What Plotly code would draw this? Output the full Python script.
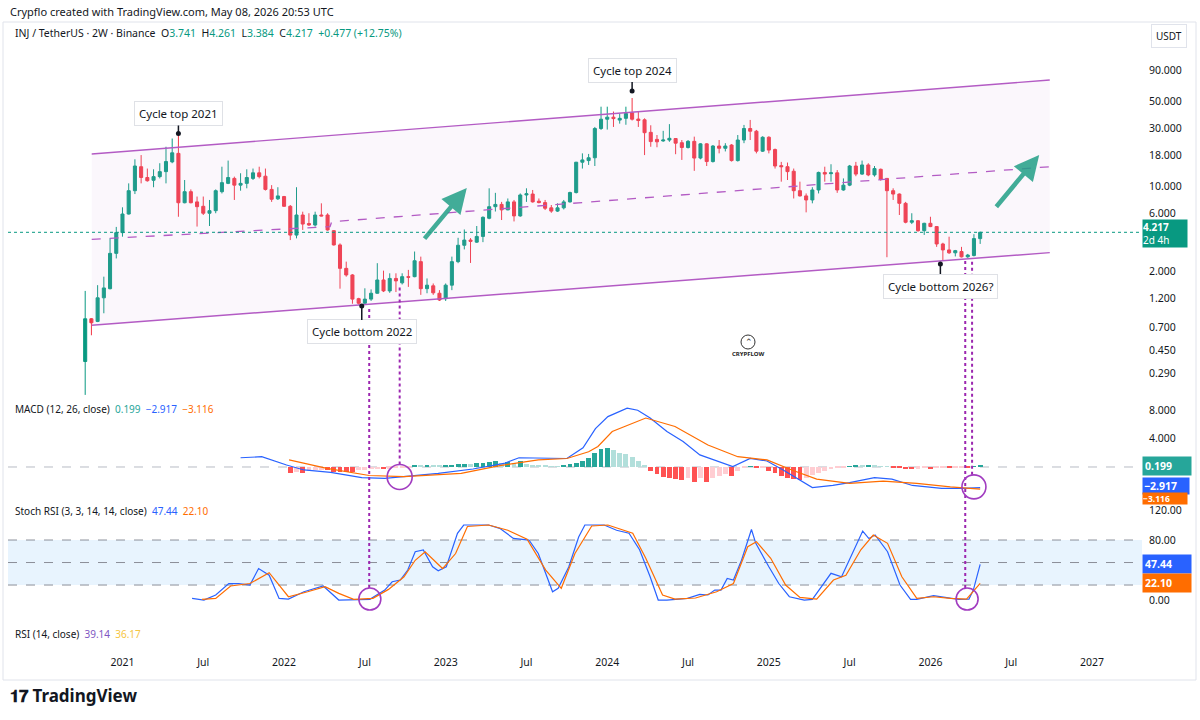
import numpy as np
import pandas as pd
import plotly.graph_objects as go

# ---------------- data (2W candles, INJ/USDT Binance) ----------------
START = pd.Timestamp("2020-10-19")
BAR_DAYS = 14

open_ = [0.365, 0.82, 0.78, 1.22, 1.45, 2.83, 4.19, 5.96, 9.27, 14.6,
         11.9, 11.3, 12.1, 13.3, 16.0, 18.8, 7.38, 9.1, 7.5, 6.9,
         6.05, 6.35, 9.1, 10.65, 11.7, 10.3, 10.65, 11.7, 13.0, 12.2,
         9.5, 7.95, 8.3, 6.9, 4.0, 5.85, 4.98, 4.84, 5.85, 5.85,
         4.35, 3.32, 2.13, 1.88, 1.2, 1.1, 1.19, 1.33, 1.71, 1.39,
         1.76, 1.62, 1.82, 1.82, 2.42, 1.45, 1.53, 1.33, 1.2, 1.55,
         2.42, 3.3, 3.64, 3.5, 3.9, 5.5, 6.85, 7.15, 6.45, 7.5,
         5.75, 8.55, 8.7, 7.6, 7.4, 6.7, 6.3, 6.7, 7.5, 8.95,
         15.9, 16.4, 17.3, 30.1, 35.9, 37.3, 35.3, 36.5, 40.5, 36.0,
         35.5, 28.0, 24.5, 23.8, 24.2, 24.9, 23.0, 21.0, 23.6, 17.2,
         22.5, 16.1, 21.6, 20.7, 22.0, 16.4, 24.2, 30.1, 28.6, 19.6,
         25.5, 20.2, 14.9, 14.6, 13.4, 9.27, 8.4, 7.78, 9.4, 13.1,
         12.8, 13.0, 9.4, 10.3, 14.8, 12.7, 15.1, 12.5, 13.9, 11.7,
         9.27, 8.7, 7.3, 5.1, 5.25, 4.35, 5.0, 4.7, 3.38, 3.02,
         2.86, 2.93, 2.65, 2.72, 3.741]
high = [1.39, 0.83, 1.55, 1.82, 3.76, 4.67, 6.77, 10.65, 16.8, 18.2,
        14.1, 13.9, 15.6, 21.3, 24.9, 27.5, 11.35, 9.5, 8.3, 8.3,
        7.78, 9.5, 14.6, 16.4, 12.1, 12.9, 13.9, 14.1, 14.6, 14.1,
        10.3, 9.9, 8.4, 7.07, 9.9, 6.23, 6.05, 6.23, 7.3, 6.05,
        4.4, 3.42, 2.42, 1.91, 1.22, 1.46, 1.43, 2.35, 2.04, 1.94,
        1.94, 1.94, 2.07, 2.93, 2.66, 1.76, 1.6, 1.41, 1.6, 2.66,
        3.8, 4.45, 3.78, 4.75, 5.7, 9.7, 8.9, 7.5, 8.0, 7.78,
        8.8, 9.7, 9.4, 8.0, 7.78, 7.07, 7.3, 7.78, 9.1, 16.0,
        18.8, 18.6, 31.0, 45.5, 45.5, 41.5, 40.0, 45.5, 53.6, 41.5,
        36.5, 32.0, 26.6, 28.8, 32.7, 25.0, 24.2, 24.2, 25.8, 22.8,
        22.8, 22.0, 24.2, 22.8, 22.4, 26.6, 32.2, 35.4, 29.3, 26.0,
        26.0, 20.6, 16.0, 15.8, 14.1, 11.0, 8.8, 9.9, 13.3, 14.6,
        15.3, 13.7, 11.7, 15.1, 16.0, 16.4, 15.6, 14.8, 14.1, 11.8,
        9.7, 8.8, 7.5, 6.05, 5.32, 5.05, 5.66, 4.75, 3.46, 3.88,
        3.02, 3.2, 2.8, 4.07, 4.261]
low = [0.194, 0.60, 0.77, 0.91, 1.43, 2.57, 3.88, 5.9, 8.7, 10.65,
       11.0, 9.9, 11.7, 10.65, 15.6, 5.66, 7.3, 7.3, 4.7, 5.85,
       4.75, 6.05, 8.8, 10.5, 7.78, 9.27, 9.7, 11.35, 11.7, 9.3,
       7.5, 7.78, 6.85, 3.64, 3.76, 4.41, 4.75, 4.7, 5.7, 4.35,
       3.28, 1.45, 1.82, 1.09, 1.07, 1.09, 1.15, 1.32, 1.36, 1.34,
       1.36, 1.57, 1.5, 1.80, 1.29, 1.33, 1.29, 1.15, 1.15, 1.41,
       2.35, 3.05, 2.36, 3.45, 3.5, 5.4, 6.25, 5.32, 6.4, 5.18,
       5.66, 7.5, 7.4, 7.3, 6.43, 6.1, 6.2, 6.5, 7.4, 8.8,
       14.1, 15.1, 14.8, 29.3, 29.5, 31.0, 33.0, 32.3, 35.0, 31.0,
       18.2, 21.3, 21.1, 23.4, 23.4, 18.5, 16.6, 20.6, 13.5, 16.8,
       14.8, 15.8, 18.8, 19.5, 16.1, 16.1, 22.8, 24.2, 18.8, 19.3,
       18.8, 14.1, 11.0, 11.35, 8.0, 8.3, 6.15, 7.3, 8.8, 11.0,
       11.0, 8.9, 9.27, 10.1, 12.2, 12.5, 12.2, 12.1, 11.2, 2.63,
       7.78, 5.85, 5.0, 4.93, 4.26, 4.01, 4.65, 3.2, 2.45, 2.8,
       2.67, 2.62, 2.6, 2.67, 3.384]
close = [0.82, 0.76, 1.22, 1.47, 2.83, 4.19, 5.96, 9.27, 14.8, 11.9,
         11.2, 12.1, 13.3, 16.1, 19.0, 7.38, 9.1, 7.38, 6.85, 6.05,
         6.35, 9.27, 10.8, 11.9, 10.3, 10.65, 11.9, 13.0, 12.1, 9.5,
         7.88, 8.4, 6.9, 4.0, 5.85, 4.93, 4.84, 5.85, 5.75, 4.41,
         3.32, 2.13, 1.88, 1.19, 1.1, 1.19, 1.33, 1.71, 1.39, 1.76,
         1.68, 1.82, 1.80, 2.46, 1.45, 1.55, 1.34, 1.17, 1.55, 2.42,
         3.3, 3.64, 3.55, 3.9, 5.6, 6.85, 7.15, 6.45, 7.5, 5.75,
         8.55, 8.75, 7.5, 7.4, 6.65, 6.3, 6.7, 7.5, 8.95, 15.9,
         16.6, 17.3, 30.1, 35.9, 37.3, 36.3, 36.5, 40.0, 35.9, 35.0,
         27.8, 23.5, 23.4, 24.2, 25.0, 22.8, 21.0, 23.6, 17.2, 22.5,
         16.1, 21.6, 20.7, 21.6, 16.4, 24.2, 30.1, 28.6, 19.6, 25.5,
         20.0, 14.8, 14.6, 13.3, 9.27, 8.4, 7.78, 9.4, 13.1, 12.7,
         13.0, 9.4, 10.3, 14.8, 12.7, 15.1, 12.5, 14.1, 11.5, 9.27,
         8.7, 7.3, 5.1, 5.25, 4.35, 5.0, 4.7, 3.38, 3.02, 2.86,
         2.98, 2.65, 2.74, 3.741, 4.217]

# MACD (12, 26) line and signal, read at bar positions
macd_i = [25, 28.4, 32.4, 35.2, 39.5, 44.5, 48.2, 52.5, 56.8, 62.4, 67.4, 69.8, 74.8,
          77.5, 80.1, 82.1, 84.1, 87.2, 88.9, 90.9, 93.6, 96.2, 98.9, 101.6, 104.2, 107,
          109.7, 112.3, 115, 117, 120.3, 123, 127, 129.8, 133.1, 137.8, 141.2, 144]
macd_v = [1.3, 1.45, 0.28, -0.42, -0.75, -1.5, -1.6, -1.27, -0.9, -0.28, 0.5, 1.3, 1.2,
          1.2, 2.7, 5.4, 7.1, 8.3, 8.0, 6.9, 5.0, 3.6, 1.7, 0.85, 0.05, 1.2,
          0.85, -0.42, -1.83, -2.9, -2.6, -2.2, -1.5, -1.7, -2.6, -3.0, -3.0, -2.917]
signal_i = [32.8, 38.9, 45.7, 51.3, 60.5, 66.7, 72.9, 77.5, 81, 82.5, 84.8, 90.2, 94.9,
            100.2, 105, 109.7, 113.7, 117.7, 123, 128.4, 133.8, 139.2, 144]
signal_v = [1.0, -0.2, -1.2, -1.37, -0.9, 0.2, 1.0, 1.2, 2.15, 2.9, 5.0, 6.9, 5.7,
            3.1, 1.45, 1.0, -0.42, -1.7, -2.3, -2.0, -2.3, -2.8, -3.116]
hist_first = 33
hist_v = [-0.9, -0.75, -0.9, -0.6, -0.45, -0.4, -0.4, -0.7, -0.75, -0.75,
          -0.75, -0.45, -0.4, -0.35, -0.3, -0.3, -0.25, -0.2, -0.15, -0.05,
          0.3, 0.25, 0.3, 0.25, 0.2, 0.3, 0.35, 0.4, 0.45, 0.4,
          0.5, 0.6, 0.75, 0.8, 0.55, 0.7, 0.5, 0.8, 0.4, 0.35,
          0.3, 0.2, 0.1, 0.05, 0.15, 0.4, 0.6, 0.8, 1.3, 2.0,
          2.6, 2.7, 2.4, 2.0, 1.8, 1.4, 0.9, 0.3, -0.6, -1.0,
          -1.4, -1.5, -1.7, -1.8, -1.5, -2.1, -1.6, -2.1, -1.5, -1.3,
          -1.0, -1.3, -0.6, -0.2, 0.1, -0.2, -0.1, -0.5, -0.8, -1.2,
          -1.5, -1.7, -1.9, -1.5, -1.1, -0.8, -0.5, -0.3, -0.2, -0.1,
          0.1, 0.2, 0.15, 0.3, 0.2, 0.1, 0.05, -0.1, -0.2, -0.3,
          -0.35, -0.25, -0.2, -0.3, -0.2, -0.15, -0.15, -0.1, -0.05, -0.05,
          0.08, 0.199]

# Stoch RSI (3, 3, 14, 14) K and D
k_i = [17.2, 19.1, 21, 23.1, 24.7, 26.5, 27.9, 29.6, 31.2, 32.7, 35.2, 38.3, 40.8, 43.2,
       45.8, 48.2, 49.4, 50.7, 51.9, 53.1, 54.4, 55.9, 56.8, 58.1, 59.9, 60.9, 64.9, 66.7,
       68.9, 71.4, 72.9, 75.2, 76.1, 77.8, 79.4, 80.4, 83.5, 85.5, 87.5, 89.2, 90.9, 92.2,
       93.6, 96.9, 98.9, 100.2, 101.3, 102.3, 103.3, 104.3, 105.6, 107.2, 107.9, 110, 111.6,
       113.3, 115.7, 117, 120, 121.7, 125.1, 126.1, 127.1, 129.1, 131.1, 132.8, 133.8, 136.5,
       138.5, 140.5, 142.2, 142.9, 144]
k_v = [2.2, 0, 6.7, 22, 22, 20, 42, 33, 2.2, 1.3, 11, 18.7, 0, 0,
       0.9, 13.3, 24.4, 26.7, 40, 64.4, 66.7, 44.4, 39, 44.4, 88.9, 100, 100, 95.6,
       82.2, 80, 62, 11, 15.6, 44, 84, 100, 100, 93, 89, 67, 31, 0,
       0, 2.2, 7.6, 6.7, 13.3, 13.3, 28.9, 26.7, 53, 94, 75.6, 44.4, 22,
       4.4, 0, 0.9, 35.6, 31, 92, 82, 86.7, 64.4, 20, 0.9, 0.9, 5.8,
       3.6, 0.9, 1.3, 13.3, 47.44]
d_i = [18.8, 21, 23.4, 26.5, 29.6, 32.7, 35.8, 38.6, 40.8, 43.2, 46.3, 48.8, 51.3, 53.1,
       54.7, 57.5, 59.6, 61.5, 64.9, 68, 71.1, 74.1, 76.6, 78.8, 81.5, 84.1, 88.1, 90.2,
       92.9, 94.9, 98.2, 101.6, 104.3, 106.6, 108, 110.3, 112.7, 115, 117.7, 120.4, 122.4,
       124.8, 126.8, 129.1, 131.4, 133.8, 136.5, 139.2, 141.8, 144]
d_v = [0.9, 2.2, 18.7, 22, 36.4, 4.4, 11, 17.8, 8.9, 0.9, 2.2, 14.2, 31, 53,
       64.4, 42, 62, 98, 100, 93, 81, 40, 15.6, 62, 98.7, 100, 89, 55.6,
       6.7, 1.3, 2.7, 11, 22, 71, 77.8, 55.6, 20, 3.6, 1.3, 26.7, 33,
       67, 86.7, 75.6, 31, 2.2, 4.4, 2.2, 1.3, 22.1]

price_ticks = [0.29, 0.45, 0.7, 1.2, 2, 6, 10, 18, 30, 50, 90]
macd_ticks = [4, 8]
stoch_ticks = [0, 80, 120]
time_tick_i = [6, 19, 32, 45, 58, 71, 84, 97, 110, 123, 136, 149, 162]
time_tick_text = ["2021", "Jul", "2022", "Jul", "2023", "Jul", "2024", "Jul",
                  "2025", "Jul", "2026", "Jul", "2027"]

# drawings (bar index, price)
channel_i = [1.05, 155.2]
channel_upper = [18.6, 75.4]
channel_lower = [0.725, 2.87]
mid_i = [1.05, 39.4, 39.66, 155.2]
mid_p = [3.69, 4.7, 5.15, 14.6]

callout_text = ["Cycle top 2021", "Cycle top 2024", "Cycle bottom 2022", "Cycle bottom 2026?"]
callout_i = [15, 88, 44.5, 137.6]
callout_p = [27.4, 61.2, 1.045, 2.31]
callout_off = [-20, -21, 26, 22]

arrow_tail_i = [54.4, 146.4]
arrow_tail_p = [3.64, 6.65]
arrow_tip_i = [61.4, 153.5]
arrow_tip_p = [9.76, 18.2]

marker_i = [45.7, 50.6, 141.6, 142.7]
marker_top_p = [1.05, 1.62, 2.62, 2.62]
marker_pane = ["stoch", "macd", "stoch", "macd"]
circle_i = [45.8, 50.6, 141.9, 143.0]
circle_v = [1.3, -1.4, 1.3, -2.8]
circle_r = [11, 12.5, 11, 12]

last_price = 4.217

# ---------------- layout geometry ----------------
W, H = 1200, 720
PL, PR, PT, PB = 8, 1142, 45, 648
PH = PB - PT
PW = PR - PL


def dom(top, bot):
    return [(PB - bot) / PH, (PB - top) / PH]


MAIN_DOM = dom(45, 395)
MACD_DOM = dom(398, 500)
STOCH_DOM = dom(502, 625)
RSI_DOM = dom(627, 648)
MAIN_RANGE = [-0.713, 2.1653]
MACD_RANGE = [-4.65, 9.72]
STOCH_RANGE = [-33.3, 130.7]


def bar_date(i):
    return START + pd.Timedelta(days=BAR_DAYS * float(i))


def to_paper(v, d, r, log=False):
    if log:
        v = np.log10(v)
    return d[0] + (v - r[0]) / (r[1] - r[0]) * (d[1] - d[0])


def px(x):
    return (x - PL) / PW


def py(y):
    return (PB - y) / PH


UP = "#089981"
DN = "#f23645"
BLUE = "#2962ff"
ORANGE = "#ff6d00"
PURPLE = "#9c27b0"
CH = "#b35bc4"
TXT = "#131722"
FONT = "Noto Sans"

n = len(close)
dates = [bar_date(i) for i in range(n)]

fig = go.Figure()

# channel fill and lines
ci = [bar_date(i) for i in channel_i]
fig.add_trace(go.Scatter(x=[ci[0], ci[1], ci[1], ci[0], ci[0]],
                         y=[channel_upper[0], channel_upper[1], channel_lower[1], channel_lower[0], channel_upper[0]],
                         fill="toself", fillcolor="rgba(220,180,228,0.11)", line=dict(width=0),
                         mode="lines", hoverinfo="skip", xaxis="x", yaxis="y"))
for ys in (channel_upper, channel_lower):
    fig.add_trace(go.Scatter(x=ci, y=ys, mode="lines", line=dict(color=CH, width=1.4),
                             hoverinfo="skip", xaxis="x", yaxis="y"))
fig.add_trace(go.Scatter(x=[bar_date(i) for i in mid_i], y=mid_p, mode="lines",
                         line=dict(color=CH, width=1.3, dash="dash"), hoverinfo="skip",
                         xaxis="x", yaxis="y"))

# current price dotted line
fig.add_trace(go.Scatter(x=[bar_date(-12.42), bar_date(170.04)], y=[last_price, last_price],
                         mode="lines", line=dict(color=UP, width=1, dash="dot"),
                         hoverinfo="skip", xaxis="x", yaxis="y"))

# candles
fig.add_trace(go.Candlestick(x=dates, open=open_, high=high, low=low, close=close,
                             increasing=dict(line=dict(color=UP, width=1), fillcolor=UP),
                             decreasing=dict(line=dict(color=DN, width=1), fillcolor=DN),
                             whiskerwidth=0, xaxis="x", yaxis="y", hoverinfo="skip"))

# callout dots
fig.add_trace(go.Scatter(x=[bar_date(i) for i in callout_i], y=callout_p, mode="markers",
                         marker=dict(color="#131722", size=5), hoverinfo="skip",
                         xaxis="x", yaxis="y"))

# MACD
hist_colors = []
prev = None
for v in hist_v:
    if v >= 0:
        hist_colors.append("#26a69a" if prev is None or v >= prev else "#b2dfdb")
    else:
        hist_colors.append("#ff5252" if prev is None or v <= prev else "#ffcdd2")
    prev = v
fig.add_trace(go.Bar(x=dates[hist_first:hist_first + len(hist_v)], y=hist_v,
                     marker=dict(color=hist_colors, line=dict(width=0)),
                     width=BAR_DAYS * 86400000 * 0.78, xaxis="x", yaxis="y2", hoverinfo="skip"))
fig.add_trace(go.Scatter(x=[bar_date(i) for i in macd_i], y=macd_v, mode="lines",
                         line=dict(color=BLUE, width=1.2), xaxis="x", yaxis="y2", hoverinfo="skip"))
fig.add_trace(go.Scatter(x=[bar_date(i) for i in signal_i], y=signal_v, mode="lines",
                         line=dict(color=ORANGE, width=1.2), xaxis="x", yaxis="y2", hoverinfo="skip"))

# Stoch RSI
fig.add_trace(go.Scatter(x=[bar_date(i) for i in k_i], y=k_v, mode="lines",
                         line=dict(color=BLUE, width=1.2), xaxis="x", yaxis="y3", hoverinfo="skip"))
fig.add_trace(go.Scatter(x=[bar_date(i) for i in d_i], y=d_v, mode="lines",
                         line=dict(color=ORANGE, width=1.2), xaxis="x", yaxis="y3", hoverinfo="skip"))

# empty RSI pane (keeps the time axis at the bottom)
fig.add_trace(go.Scatter(x=[dates[0]], y=[0.5], mode="markers", marker=dict(opacity=0),
                         xaxis="x", yaxis="y4", hoverinfo="skip"))

shapes = []
# frame
shapes.append(dict(type="rect", xref="paper", yref="paper", x0=px(3), x1=px(1196),
                   y0=py(680), y1=py(22), line=dict(color="#e0e3eb", width=1), layer="below"))
# stoch band and levels
shapes.append(dict(type="rect", xref="paper", yref="y3", x0=0, x1=1, y0=20, y1=80,
                   fillcolor="rgba(33,150,243,0.10)", line=dict(width=0), layer="below"))
for lv in (80, 50, 20):
    shapes.append(dict(type="line", xref="paper", yref="y3", x0=0, x1=1, y0=lv, y1=lv,
                       line=dict(color="#8c8f99", width=1, dash="dash"), layer="below"))
shapes.append(dict(type="line", xref="paper", yref="y2", x0=0, x1=1, y0=0, y1=0,
                   line=dict(color="#b8bbc4", width=1, dash="dash"), layer="below"))

# vertical purple markers and circles
for mi, tp, pane, c_i, c_v, r in zip(marker_i, marker_top_p, marker_pane, circle_i, circle_v, circle_r):
    top = to_paper(tp, MAIN_DOM, MAIN_RANGE, log=True) - 3 / PH
    if pane == "stoch":
        bot = to_paper(c_v, STOCH_DOM, STOCH_RANGE) + r / PH
    else:
        bot = to_paper(c_v, MACD_DOM, MACD_RANGE) + r / PH
    shapes.append(dict(type="line", xref="x", yref="paper", x0=bar_date(mi), x1=bar_date(mi),
                       y0=bot, y1=top, line=dict(color=PURPLE, width=2, dash="dot")))
    yref = "y3" if pane == "stoch" else "y2"
    shapes.append(dict(type="circle", xref="x", yref=yref, xsizemode="pixel", ysizemode="pixel",
                       xanchor=bar_date(c_i), yanchor=c_v, x0=-r, x1=r, y0=-r, y1=r,
                       line=dict(color="#a13cc0", width=1.6)))

# watermark logo circle
shapes.append(dict(type="circle", xref="paper", yref="paper", x0=px(741), x1=px(755),
                   y0=py(349), y1=py(335), line=dict(color="#333", width=1)))

ann = []
# callouts
for t, i, p, off in zip(callout_text, callout_i, callout_p, callout_off):
    ann.append(dict(x=bar_date(i), y=np.log10(p), xref="x", yref="y", text=t, showarrow=True,
                    ax=0, ay=off, arrowhead=0, arrowwidth=1.5, arrowcolor="#131722", standoff=0,
                    bgcolor="white", bordercolor="#dfe1e6", borderwidth=1, borderpad=4,
                    font=dict(size=11.5, color=TXT, family=FONT)))
# green arrows
for ti, tp, hi, hp in zip(arrow_tail_i, arrow_tail_p, arrow_tip_i, arrow_tip_p):
    ann.append(dict(x=bar_date(hi), y=np.log10(hp), xref="x", yref="y",
                    ax=bar_date(ti), ay=np.log10(tp), axref="x", ayref="y", text="",
                    showarrow=True, arrowhead=2, arrowsize=1.1, arrowwidth=4.5,
                    arrowcolor="rgba(34,160,135,0.85)"))


def txt(x, y, s, size=11, color=TXT, anchor="left", yanchor="middle", **kw):
    ann.append(dict(x=px(x), y=py(y), xref="paper", yref="paper", text=s, showarrow=False,
                    xanchor=anchor, yanchor=yanchor, font=dict(size=size, color=color, family=FONT), **kw))


def c(s, col):
    return f"<span style='color:{col}'>{s}</span>"


txt(8, 11, "Crypflo created with TradingView.com, May 08, 2026 20:53 UTC", size=11)
txt(13, 33, "INJ / TetherUS · 2W · Binance  O" + c("3.741", UP) + "  H" + c("4.261", UP) +
    "  L" + c("3.384", UP) + "  C" + c("4.217", UP) + "  " + c("+0.477 (+12.75%)", UP), size=10.5)
txt(13, 409, "MACD (12, 26, close)  " + c("0.199", "#26a69a") + "  " + c("−2.917", BLUE) +
    "  " + c("−3.116", ORANGE), size=10)
txt(13, 511, "Stoch RSI (3, 3, 14, 14, close)  " + c("47.44", BLUE) + "  " + c("22.10", ORANGE), size=10)
txt(13, 634, "RSI (14, close)  " + c("39.14", "#7e57c2") + "  " + c("36.17", "#f5c542"), size=10)
txt(748, 354, "<b>CRYPFLOW</b>", size=6, color="#222", anchor="center")
txt(749, 341, "⌃", size=9, color="#333", anchor="center")
txt(8, 695, "<b>𝟏𝟕 TradingView</b>", size=17, color="#131722")
txt(1169, 36, "USDT", size=10, anchor="center", bgcolor="white", bordercolor="#e0e3eb",
    borderwidth=1, borderpad=4)


# right side value labels
def label(yref, yv, s, bg, yshift=0, size=10.5, pad=2):
    ann.append(dict(x=1, y=yv, xref="paper", yref=yref, text=s, showarrow=False, xanchor="left",
                    yanchor="middle", xshift=0, yshift=yshift, bgcolor=bg, borderpad=pad, width=44,
                    align="left", font=dict(size=size, color="white", family=FONT)))


label("y", np.log10(last_price), "<b>4.217</b><br>2d 4h", UP, yshift=-1, size=10, pad=0)
label("y2", 0.199, "<b>0.199</b>", "#26a69a")
label("y2", -2.917, "<b>−2.917</b>", BLUE, yshift=2, pad=1)
label("y2", -3.116, "<b>−3.116</b>", ORANGE, yshift=-9, size=8.5, pad=0)
label("y3", 47.44, "<b>47.44</b>", BLUE)
label("y3", 22.10, "<b>22.10</b>", ORANGE)

axis_common = dict(showgrid=False, zeroline=False, showline=False, ticks="", side="right",
                   anchor="x", tickfont=dict(size=10.5, color=TXT, family=FONT), ticklabelstandoff=6)

fig.update_layout(
    width=W, height=H,
    margin=dict(l=PL, r=W - PR, t=PT, b=H - PB),
    paper_bgcolor="white", plot_bgcolor="white",
    showlegend=False, hovermode=False,
    font=dict(family=FONT, color=TXT),
    bargap=0,
    xaxis=dict(domain=[0, 1], anchor="y4", type="date", range=[bar_date(-12.42), bar_date(170.04)],
               showgrid=False, zeroline=False, showline=False, ticks="",
               tickvals=[bar_date(i) for i in time_tick_i], ticktext=time_tick_text,
               tickfont=dict(size=10.5, color=TXT, family=FONT), ticklabelstandoff=6,
               rangeslider=dict(visible=False)),
    yaxis=dict(domain=MAIN_DOM, type="log", range=MAIN_RANGE, tickvals=price_ticks,
               ticktext=[f"{v:.3f}" for v in price_ticks], **axis_common),
    yaxis2=dict(domain=MACD_DOM, range=MACD_RANGE, tickvals=macd_ticks,
                ticktext=[f"{v:.3f}" for v in macd_ticks], **axis_common),
    yaxis3=dict(domain=STOCH_DOM, range=STOCH_RANGE, tickvals=stoch_ticks,
                ticktext=[f"{v:.2f}" for v in stoch_ticks], **axis_common),
    yaxis4=dict(domain=RSI_DOM, range=[0, 1], showticklabels=False, showgrid=False,
                zeroline=False, showline=False, ticks="", side="right", anchor="x"),
    shapes=shapes,
    annotations=ann,
)

fig.write_html("out.html")
